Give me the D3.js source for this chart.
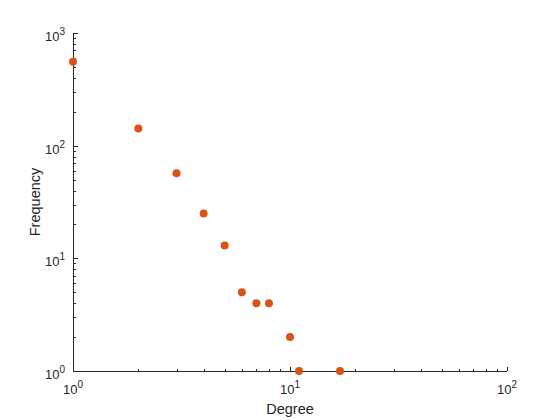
<!DOCTYPE html>
<html><head><meta charset="utf-8">
<script src="https://cdn.jsdelivr.net/npm/d3@7"></script>
<style>body{margin:0;background:#fff}svg{display:block}text{font-family:"Liberation Sans",Arial,sans-serif;fill:#262626}</style>
</head><body>
<svg id="c" width="560" height="420"></svg>
<script>
const degree = [1, 2, 3, 4, 5, 6, 7, 8, 10, 11, 17];
const frequency = [555, 142, 57, 25, 13, 5, 4, 4, 2, 1, 1];
const xTickExps = [0, 1, 2];
const yTickExps = [0, 1, 2, 3];
const xLabel = "Degree";
const yLabel = "Frequency";

const svg = d3.select("#c");
const L = 73, R = 507, T = 33, B = 371;
const x = d3.scaleLog().domain([1, 100]).range([L, R]);
const y = d3.scaleLog().domain([1, 1000]).range([B, T]);
const ax = "#262626";

function minors(maxExp){const a=[];for(let e=0;e<maxExp;e++)for(let k=2;k<=9;k++)a.push(k*Math.pow(10,e));return a;}

const g = svg.append("g").attr("shape-rendering","crispEdges");
// x axis
g.append("line").attr("x1",L).attr("x2",R).attr("y1",B+0.5).attr("y2",B+0.5).attr("stroke",ax);
g.selectAll(".xmin").data(minors(2)).enter().append("line")
  .attr("x1",d=>Math.round(x(d))+0.5).attr("x2",d=>Math.round(x(d))+0.5).attr("y1",B).attr("y2",B-2.5).attr("stroke",ax);
g.selectAll(".xmaj").data(xTickExps).enter().append("line")
  .attr("x1",d=>Math.round(x(Math.pow(10,d)))+0.5).attr("x2",d=>Math.round(x(Math.pow(10,d)))+0.5).attr("y1",B).attr("y2",B-4.5).attr("stroke",ax);
// y axis
g.append("line").attr("x1",L+0.5).attr("x2",L+0.5).attr("y1",T).attr("y2",B+1).attr("stroke",ax);
g.selectAll(".ymin").data(minors(3)).enter().append("line")
  .attr("y1",d=>Math.round(y(d))+0.5).attr("y2",d=>Math.round(y(d))+0.5).attr("x1",L).attr("x2",L+2.5).attr("stroke",ax);
g.selectAll(".ymaj").data(yTickExps).enter().append("line")
  .attr("y1",d=>Math.round(y(Math.pow(10,d)))+0.5).attr("y2",d=>Math.round(y(Math.pow(10,d)))+0.5).attr("x1",L).attr("x2",L+4.5).attr("stroke",ax);

// tick labels
xTickExps.forEach(e=>{
  const t = svg.append("text").attr("x",x(Math.pow(10,e))).attr("y",B+23).attr("text-anchor","middle").attr("font-size",13);
  t.append("tspan").text("10");
  t.append("tspan").attr("dy",-6).attr("font-size",10).text(e);
});
yTickExps.forEach(e=>{
  const t = svg.append("text").attr("x",L-8).attr("y",y(Math.pow(10,e))+8).attr("text-anchor","end").attr("font-size",13);
  t.append("tspan").text("10");
  t.append("tspan").attr("dy",-6).attr("font-size",10).text(e);
});

// axis labels
svg.append("text").attr("x",(L+R)/2).attr("y",414).attr("text-anchor","middle").attr("font-size",14.5).text(xLabel);
svg.append("text").attr("transform",`translate(40,${(T+B)/2}) rotate(-90)`).attr("text-anchor","middle").attr("font-size",14.5).text(yLabel);

// points
svg.selectAll(".pt").data(degree.map((d,i)=>[d,frequency[i]])).enter().append("circle")
  .attr("cx",d=>x(d[0])).attr("cy",d=>y(d[1])).attr("r",4).attr("fill","#D95319");
</script>
</body></html>
